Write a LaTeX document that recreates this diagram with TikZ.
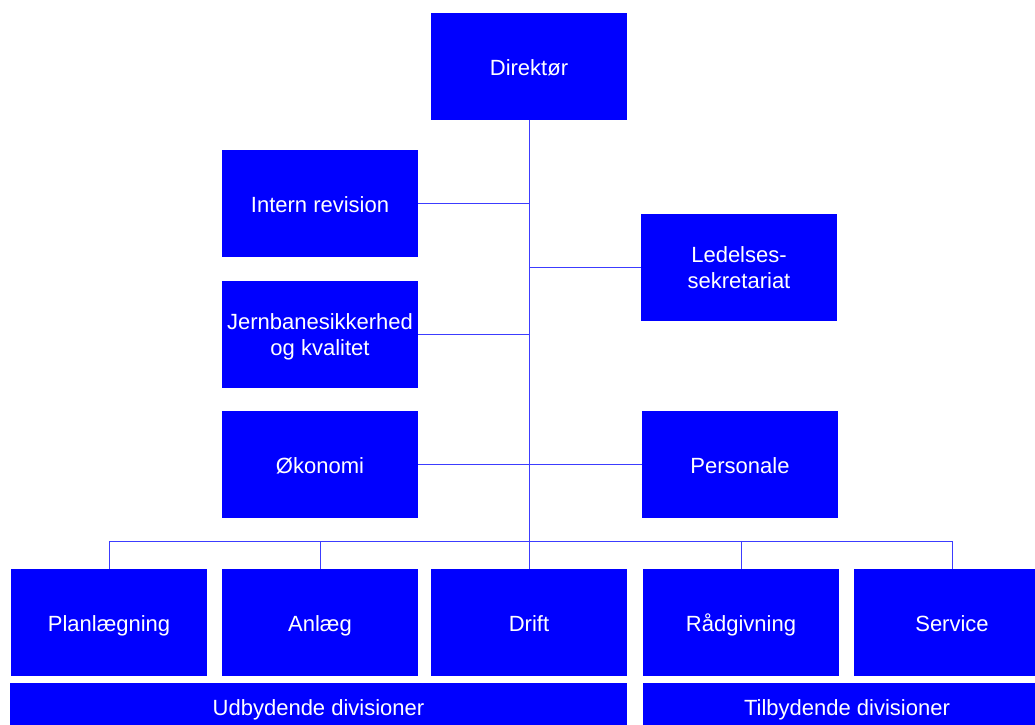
\documentclass[tikz,border=0pt]{standalone}
\usepackage{fontspec}
\setmainfont{Liberation Sans}
\begin{document}
\begin{tikzpicture}[x=1pt,y=-1pt,
  orgbox/.style={fill={rgb,255:red,0;green,0;blue,255}, draw=none, text=white,
    minimum width=196pt, minimum height=107pt, inner sep=0pt, align=center,
    font=\fontsize{22}{26}\selectfont},
  oneline/.style={text height=18pt, text depth=0pt},
  stripbox/.style={fill={rgb,255:red,0;green,0;blue,255}, draw=none, text=white,
    minimum height=48pt, inner sep=0pt, text height=16pt, text depth=0pt,
    font=\fontsize{22}{26}\selectfont},
  link/.style={draw={rgb,255:red,60;green,60;blue,255}, line width=1pt}]
\useasboundingbox (0,0) rectangle (1035,724);
\node[orgbox,oneline] (dir) at (529,66.5) {Direktør};
\node[orgbox,oneline] (intern) at (320,203.5) {Intern revision};
\node[orgbox] (jern) at (320,334) {\rule{0pt}{22pt}Jernbanesikkerhed\\og kvalitet};
\node[orgbox,oneline] (oko) at (320,464.5) {Økonomi};
\node[orgbox] (led) at (739,267.5) {Ledelses-\\sekretariat};
\node[orgbox,oneline] (pers) at (740,464.5) {Personale};
\node[orgbox,oneline] (plan) at (109,622.5) {Planlægning};
\node[orgbox,oneline] (anl) at (320,622.5) {Anlæg};
\node[orgbox,oneline] (drift) at (529,622.5) {Drift};
\node[orgbox,oneline] (rad) at (741,622.5) {Rådgivning};
\node[orgbox,oneline] (serv) at (952,622.5) {Service};
\node[stripbox, minimum width=617pt] (udb) at (318.5,707) {Udbydende divisioner};
\node[stripbox, minimum width=408pt] (tilb) at (847,707) {Tilbydende divisioner};
\coordinate (bus) at (529,541);
\draw[link] (dir.south) -- (drift.north);
\draw[link] (intern.east) -- (intern.east -| dir.south);
\draw[link] (jern.east) -- (jern.east -| dir.south);
\draw[link] (led.west) -- (led.west -| dir.south);
\draw[link] (oko.east) -- (pers.west);
\draw[link] (plan.north) -- (plan.north |- bus) -- (serv.north |- bus) -- (serv.north);
\draw[link] (anl.north) -- (anl.north |- bus);
\draw[link] (rad.north) -- (rad.north |- bus);
\end{tikzpicture}
\end{document}
